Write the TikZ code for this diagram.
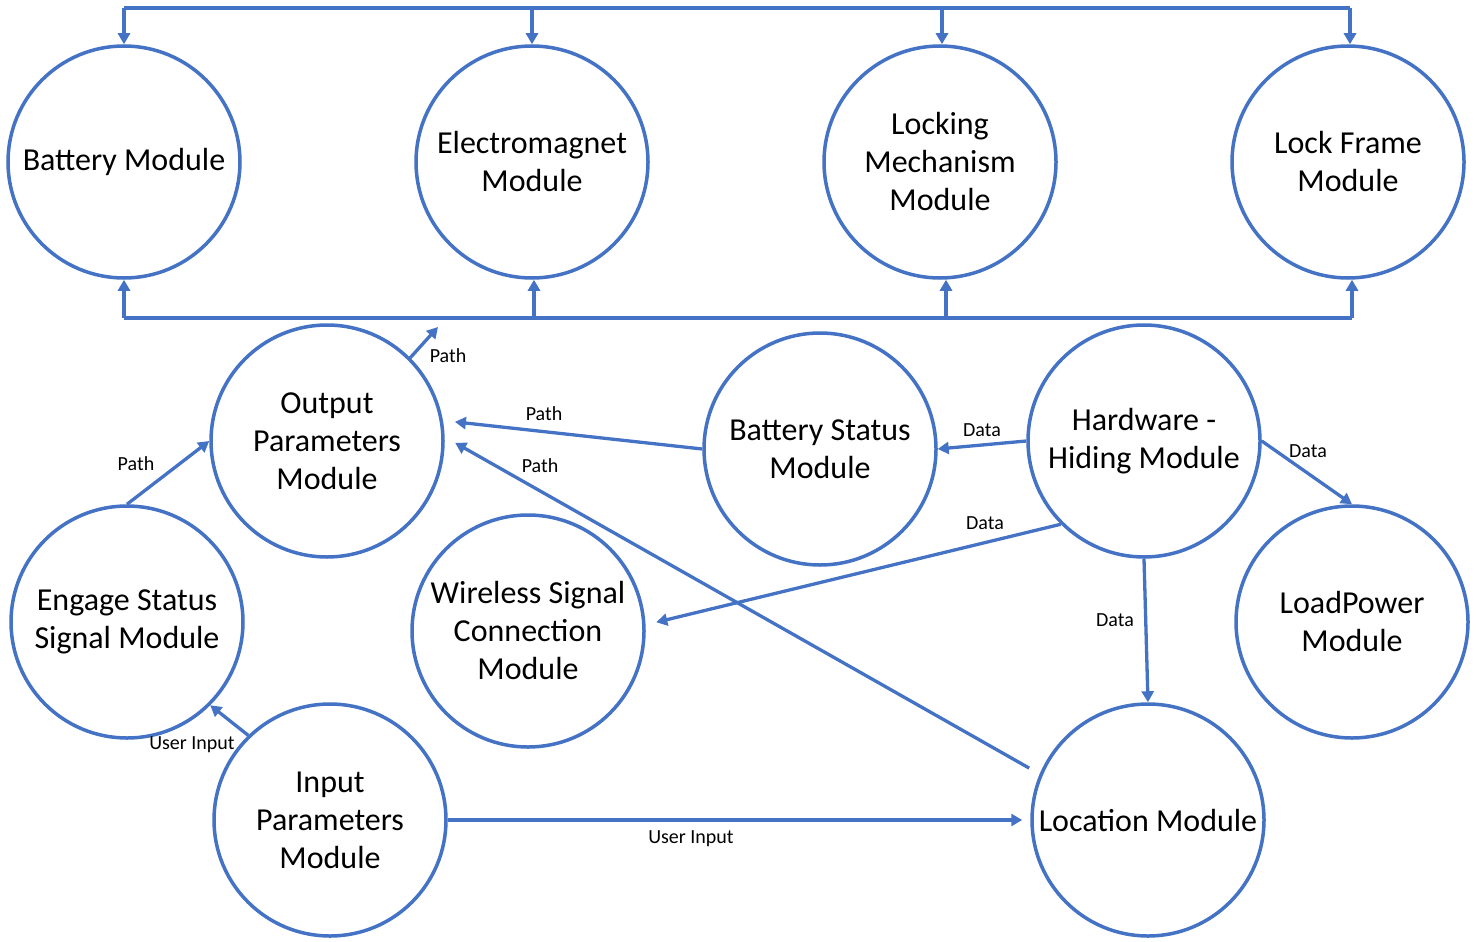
\documentclass[tikz,border=0pt]{standalone}
\usepackage{fontspec}
\setmainfont{Carlito}
\usetikzlibrary{arrows.meta}
\definecolor{lb}{HTML}{4472C4}
\begin{document}
\begin{tikzpicture}[x=1pt,y=-1pt,
 mod/.style={circle,draw=lb,line width=3.5pt,minimum size=232pt,inner sep=0pt,align=center,font=\fontsize{32}{38}\selectfont},
 conn/.style={draw=lb,line width=3.3pt,-{Triangle[length=11pt,width=12pt]}},
 bus/.style={draw=lb,line width=3.3pt},
 lbl/.style={font=\fontsize{20}{24}\selectfont,inner sep=0pt}]
\useasboundingbox (0,0) rectangle (1478,942);
% modules
\node[mod] (bm) at (124,162) {Battery Module};
\node[mod] (em) at (532,162) {Electromagnet\\Module};
\node[mod] (lm) at (940,162) {Locking\\Mechanism\\Module};
\node[mod] (lf) at (1348,162) {Lock Frame\\Module};
\node[mod] (out) at (327,441) {Output\\Parameters\\Module};
\node[mod] (bs) at (820,449) {Battery Status\\Module};
\node[mod] (hw) at (1144,441) {Hardware -\\Hiding Module};
\node[mod] (eng) at (127,622) {Engage Status\\Signal Module};
\node[mod] (wl) at (528,631) {Wireless Signal\\Connection\\Module};
\node[mod] (lp) at (1352,622) {LoadPower\\Module};
\node[mod] (inp) at (330,820) {Input\\Parameters\\Module};
\node[mod] (loc) at (1148,820) {Location Module};
% top bus
\coordinate (tl) at (124,8);
\coordinate (tr) at (1350,8);
\draw[bus] (tl) -- (tr);
\draw[conn] (tl) -- (bm.north);
\draw[conn] (em.north |- tl) -- (em.north);
\draw[conn] ([xshift=2pt]lm.north |- tl) -- ([xshift=2pt]lm.north);
\draw[conn] (tr) -- (tr |- lf.north);
% bottom bus
\coordinate (bl) at (124,318);
\coordinate (br) at (1352,318);
\draw[bus] (bl) -- (br);
\draw[conn] (bl) -- (bm.south);
\draw[conn] ([xshift=2pt]em.south |- bl) -- ([xshift=2pt]em.south);
\draw[conn] ([xshift=6pt]lm.south |- bl) -- ([xshift=6pt]lm.south);
\draw[conn] (br) -- (br |- lf.south);
% connectors
\coordinate (pfree) at (438,327);
\draw[conn] (out.45) -- (pfree);
\node[lbl] (l1) at (448,356) {Path};
\draw[conn] (eng.north) -- (out.west);
\node[lbl] (l2) at (136,464) {Path};
\draw[conn,shorten >=12pt] (bs.west) -- (out.10);
\node[lbl] (l3) at (544,414) {Path};
\draw[conn,shorten >=12pt,shorten <=12pt] (loc.157) -- (out.2);
\node[lbl] (l4) at (540,466) {Path};
\draw[conn] (hw.west) -- (bs.east);
\node[lbl] (l5) at (982,430) {Data};
\draw[conn] (hw.east) -- (lp.north);
\node[lbl] (l6) at (1308,451) {Data};
\draw[conn,shorten >=11pt] (hw.225) -- (wl.3);
\node[lbl] (l7) at (985,523) {Data};
\draw[conn] (hw.south) -- (loc.north);
\node[lbl] (l8) at (1115,620) {Data};
\draw[conn] (inp.134) -- (eng.-45);
\node[lbl] (l9) at (192,745) {User Input};
\draw[conn,shorten >=8pt] (inp.east) -- (loc.west);
\node[lbl] (l10) at (691,839) {User Input};
\end{tikzpicture}
\end{document}
